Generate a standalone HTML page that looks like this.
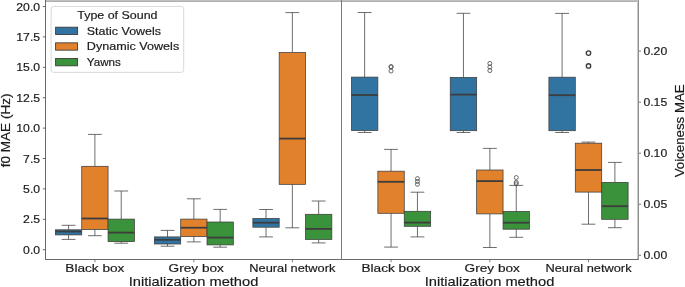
<!DOCTYPE html>
<html><head><meta charset="utf-8"><style>
html,body{margin:0;padding:0;background:#fff;overflow:hidden;}
svg{display:block;}
text{font-family:"Liberation Sans",sans-serif;fill:#1a1a1a;stroke:#1a1a1a;stroke-width:0.18px;}
.tl{font-size:11px;}
.xl{font-size:11px;}
.al{font-size:12.5px;}
.xal{font-size:13.2px;}
.lt{font-size:11px;}
.w{stroke:#3d3d3d;stroke-width:0.75;fill:none;}
.bx{stroke:#3d3d3d;stroke-width:0.75;}
.md{stroke:#3d3d3d;stroke-width:1.8;fill:none;}
.fl{stroke:#3d3d3d;stroke-width:0.75;fill:none;}
</style></head><body>
<svg width="685" height="287" viewBox="0 0 685 287">
<defs><filter id="g" filterUnits="userSpaceOnUse" x="0" y="0" width="685" height="287"><feGaussianBlur stdDeviation="0.01"/></filter></defs>
<rect width="685" height="287" fill="#fff"/>
<g filter="url(#g)">
<path d="M68.58 225.30V229.80M68.58 234.90V239.40M61.68 225.30H75.48M61.68 239.40H75.48" class="w"/>
<rect x="55.42" y="229.80" width="26.32" height="5.10" fill="#3274a1" class="bx"/>
<path d="M55.42 231.50H81.74" class="md"/>
<path d="M94.90 134.40V166.30M94.90 229.40V235.70M88.00 134.40H101.80M88.00 235.70H101.80" class="w"/>
<rect x="81.74" y="166.30" width="26.32" height="63.10" fill="#e1812c" class="bx"/>
<path d="M81.74 218.50H108.06" class="md"/>
<path d="M121.22 191.00V219.10M121.22 241.60V243.20M114.32 191.00H128.12M114.32 243.20H128.12" class="w"/>
<rect x="108.06" y="219.10" width="26.32" height="22.50" fill="#3a923a" class="bx"/>
<path d="M108.06 232.60H134.38" class="md"/>
<path d="M167.53 230.40V236.90M167.53 244.00V246.20M160.63 230.40H174.43M160.63 246.20H174.43" class="w"/>
<rect x="154.37" y="236.90" width="26.32" height="7.10" fill="#3274a1" class="bx"/>
<path d="M154.37 239.80H180.69" class="md"/>
<path d="M193.85 198.80V219.10M193.85 236.50V241.90M186.95 198.80H200.75M186.95 241.90H200.75" class="w"/>
<rect x="180.69" y="219.10" width="26.32" height="17.40" fill="#e1812c" class="bx"/>
<path d="M180.69 227.70H207.01" class="md"/>
<path d="M220.17 209.40V222.00M220.17 244.90V247.20M213.27 209.40H227.07M213.27 247.20H227.07" class="w"/>
<rect x="207.01" y="222.00" width="26.32" height="22.90" fill="#3a923a" class="bx"/>
<path d="M207.01 237.60H233.33" class="md"/>
<path d="M266.03 209.50V218.50M266.03 227.20V236.90M259.13 209.50H272.93M259.13 236.90H272.93" class="w"/>
<rect x="252.87" y="218.50" width="26.32" height="8.70" fill="#3274a1" class="bx"/>
<path d="M252.87 222.70H279.19" class="md"/>
<path d="M292.35 12.60V52.60M292.35 184.35V227.80M285.45 12.60H299.25M285.45 227.80H299.25" class="w"/>
<rect x="279.19" y="52.60" width="26.32" height="131.75" fill="#e1812c" class="bx"/>
<path d="M279.19 138.60H305.51" class="md"/>
<path d="M318.67 201.00V214.30M318.67 239.40V242.90M311.77 201.00H325.57M311.77 242.90H325.57" class="w"/>
<rect x="305.51" y="214.30" width="26.32" height="25.10" fill="#3a923a" class="bx"/>
<path d="M305.51 228.90H331.83" class="md"/>
<path d="M364.65 12.50V77.10M364.65 130.50V132.50M357.75 12.50H371.55M357.75 132.50H371.55" class="w"/>
<rect x="351.45" y="77.10" width="26.40" height="53.40" fill="#3274a1" class="bx"/>
<path d="M351.45 95.00H377.85" class="md"/>
<path d="M391.05 149.40V171.20M391.05 213.30V247.10M384.15 149.40H397.95M384.15 247.10H397.95" class="w"/>
<rect x="377.85" y="171.20" width="26.40" height="42.10" fill="#e1812c" class="bx"/>
<path d="M377.85 181.80H404.25" class="md"/>
<circle cx="391.05" cy="66.60" r="2.0" class="fl" style="stroke-width:0.75px"/>
<circle cx="391.05" cy="66.90" r="2.0" class="fl" style="stroke-width:0.75px"/>
<circle cx="391.05" cy="71.00" r="2.0" class="fl" style="stroke-width:0.75px"/>
<path d="M417.45 192.20V211.30M417.45 226.30V236.90M410.55 192.20H424.35M410.55 236.90H424.35" class="w"/>
<rect x="404.25" y="211.30" width="26.40" height="15.00" fill="#3a923a" class="bx"/>
<path d="M404.25 222.60H430.65" class="md"/>
<circle cx="417.45" cy="178.60" r="2.0" class="fl" style="stroke-width:0.75px"/>
<circle cx="417.45" cy="181.40" r="2.0" class="fl" style="stroke-width:0.75px"/>
<circle cx="417.45" cy="184.30" r="2.0" class="fl" style="stroke-width:0.75px"/>
<path d="M463.45 13.30V77.40M463.45 130.70V132.50M456.55 13.30H470.35M456.55 132.50H470.35" class="w"/>
<rect x="450.25" y="77.40" width="26.40" height="53.30" fill="#3274a1" class="bx"/>
<path d="M450.25 94.60H476.65" class="md"/>
<path d="M489.85 148.40V170.00M489.85 213.90V247.50M482.95 148.40H496.75M482.95 247.50H496.75" class="w"/>
<rect x="476.65" y="170.00" width="26.40" height="43.90" fill="#e1812c" class="bx"/>
<path d="M476.65 181.10H503.05" class="md"/>
<circle cx="489.85" cy="63.40" r="2.0" class="fl" style="stroke-width:0.75px"/>
<circle cx="489.85" cy="67.00" r="2.0" class="fl" style="stroke-width:0.75px"/>
<circle cx="489.85" cy="70.60" r="2.0" class="fl" style="stroke-width:0.75px"/>
<path d="M516.25 185.40V211.50M516.25 229.20V237.30M509.35 185.40H523.15M509.35 237.30H523.15" class="w"/>
<rect x="503.05" y="211.50" width="26.40" height="17.70" fill="#3a923a" class="bx"/>
<path d="M503.05 222.70H529.45" class="md"/>
<circle cx="516.25" cy="177.50" r="2.0" class="fl" style="stroke-width:0.75px"/>
<circle cx="516.25" cy="182.30" r="2.0" class="fl" style="stroke-width:0.75px"/>
<circle cx="516.25" cy="183.80" r="2.0" class="fl" style="stroke-width:0.75px"/>
<path d="M562.10 13.40V77.20M562.10 130.70V132.50M555.20 13.40H569.00M555.20 132.50H569.00" class="w"/>
<rect x="548.90" y="77.20" width="26.40" height="53.50" fill="#3274a1" class="bx"/>
<path d="M548.90 95.20H575.30" class="md"/>
<path d="M588.50 142.10V143.20M588.50 192.10V224.20M581.60 142.10H595.40M581.60 224.20H595.40" class="w"/>
<rect x="575.30" y="143.20" width="26.40" height="48.90" fill="#e1812c" class="bx"/>
<path d="M575.30 170.00H601.70" class="md"/>
<circle cx="588.50" cy="53.10" r="2.2" class="fl" style="stroke-width:1.35px"/>
<circle cx="588.50" cy="65.90" r="2.2" class="fl" style="stroke-width:1.35px"/>
<path d="M614.90 162.40V182.40M614.90 219.30V227.70M608.00 162.40H621.80M608.00 227.70H621.80" class="w"/>
<rect x="601.70" y="182.40" width="26.40" height="36.90" fill="#3a923a" class="bx"/>
<path d="M601.70 206.20H628.10" class="md"/>
<rect x="45" y="0" width="594" height="1" fill="#c0c0c0"/>
<rect x="45" y="1" width="594" height="1" fill="#b0b0b0"/>
<rect x="45" y="259" width="594" height="1" fill="#6a6a6a"/>
<rect x="45" y="0" width="1" height="260" fill="#6a6a6a"/>
<rect x="341" y="0" width="1" height="260" fill="#7a7a7a"/>
<rect x="638" y="0" width="1" height="260" fill="#909090"/>
<rect x="637" y="0" width="1" height="259" fill="#c8c8c8"/>
<rect x="42.8" y="249.20" width="2.4" height="1" fill="#6a6a6a"/>
<rect x="42.8" y="218.80" width="2.4" height="1" fill="#6a6a6a"/>
<rect x="42.8" y="188.40" width="2.4" height="1" fill="#6a6a6a"/>
<rect x="42.8" y="158.00" width="2.4" height="1" fill="#6a6a6a"/>
<rect x="42.8" y="127.60" width="2.4" height="1" fill="#6a6a6a"/>
<rect x="42.8" y="97.20" width="2.4" height="1" fill="#6a6a6a"/>
<rect x="42.8" y="66.80" width="2.4" height="1" fill="#6a6a6a"/>
<rect x="42.8" y="36.40" width="2.4" height="1" fill="#6a6a6a"/>
<rect x="42.8" y="6.00" width="2.4" height="1" fill="#6a6a6a"/>
<rect x="638.8" y="254.80" width="2.2" height="1" fill="#7a7a7a"/>
<rect x="638.8" y="203.75" width="2.2" height="1" fill="#7a7a7a"/>
<rect x="638.8" y="152.70" width="2.2" height="1" fill="#7a7a7a"/>
<rect x="638.8" y="101.65" width="2.2" height="1" fill="#7a7a7a"/>
<rect x="638.8" y="50.60" width="2.2" height="1" fill="#7a7a7a"/>
<rect x="94.40" y="260" width="1" height="2.2" fill="#7a7a7a"/>
<rect x="193.35" y="260" width="1" height="2.2" fill="#7a7a7a"/>
<rect x="291.85" y="260" width="1" height="2.2" fill="#7a7a7a"/>
<rect x="390.55" y="260" width="1" height="2.2" fill="#7a7a7a"/>
<rect x="489.35" y="260" width="1" height="2.2" fill="#7a7a7a"/>
<rect x="588.00" y="260" width="1" height="2.2" fill="#7a7a7a"/>
<rect x="51.1" y="6.45" width="132.6" height="65.9" rx="2.5" ry="2.5" fill="#fff" fill-opacity="0.8" stroke="#d9d9d9" stroke-width="1"/>
<text x="117.40" y="18.60" text-anchor="middle" class="lt" textLength="80.16" lengthAdjust="spacingAndGlyphs">Type of Sound</text>
<rect x="55.6" y="27.20" width="22.0" height="7.3" fill="#3274a1" stroke="#3d3d3d" stroke-width="0.9"/>
<text x="86.80" y="34.60" class="lt" textLength="74.25" lengthAdjust="spacingAndGlyphs">Static Vowels</text>
<rect x="55.6" y="42.85" width="22.0" height="7.3" fill="#e1812c" stroke="#3d3d3d" stroke-width="0.9"/>
<text x="86.80" y="50.25" class="lt" textLength="92.40" lengthAdjust="spacingAndGlyphs">Dynamic Vowels</text>
<rect x="55.6" y="58.50" width="22.0" height="7.3" fill="#3a923a" stroke="#3d3d3d" stroke-width="0.9"/>
<text x="86.80" y="65.90" class="lt" textLength="33.97" lengthAdjust="spacingAndGlyphs">Yawns</text>
<text x="40.10" y="253.80" text-anchor="end" class="tl" textLength="17.00" lengthAdjust="spacingAndGlyphs">0.0</text>
<text x="40.10" y="223.40" text-anchor="end" class="tl" textLength="17.00" lengthAdjust="spacingAndGlyphs">2.5</text>
<text x="40.10" y="193.00" text-anchor="end" class="tl" textLength="17.00" lengthAdjust="spacingAndGlyphs">5.0</text>
<text x="40.10" y="162.60" text-anchor="end" class="tl" textLength="17.00" lengthAdjust="spacingAndGlyphs">7.5</text>
<text x="40.10" y="132.20" text-anchor="end" class="tl" textLength="23.81" lengthAdjust="spacingAndGlyphs">10.0</text>
<text x="40.10" y="101.80" text-anchor="end" class="tl" textLength="23.81" lengthAdjust="spacingAndGlyphs">12.5</text>
<text x="40.10" y="71.40" text-anchor="end" class="tl" textLength="23.81" lengthAdjust="spacingAndGlyphs">15.0</text>
<text x="40.10" y="41.00" text-anchor="end" class="tl" textLength="23.81" lengthAdjust="spacingAndGlyphs">17.5</text>
<text x="40.10" y="10.60" text-anchor="end" class="tl" textLength="23.81" lengthAdjust="spacingAndGlyphs">20.0</text>
<text x="643.40" y="259.40" class="tl" textLength="23.81" lengthAdjust="spacingAndGlyphs">0.00</text>
<text x="643.40" y="208.35" class="tl" textLength="23.81" lengthAdjust="spacingAndGlyphs">0.05</text>
<text x="643.40" y="157.30" class="tl" textLength="23.81" lengthAdjust="spacingAndGlyphs">0.10</text>
<text x="643.40" y="106.25" class="tl" textLength="23.81" lengthAdjust="spacingAndGlyphs">0.15</text>
<text x="643.40" y="55.20" class="tl" textLength="23.81" lengthAdjust="spacingAndGlyphs">0.20</text>
<text x="94.90" y="271.60" text-anchor="middle" class="xl" textLength="59.09" lengthAdjust="spacingAndGlyphs">Black box</text>
<text x="196.25" y="271.60" text-anchor="middle" class="xl" textLength="55.34" lengthAdjust="spacingAndGlyphs">Grey box</text>
<text x="292.35" y="271.60" text-anchor="middle" class="xl" textLength="86.11" lengthAdjust="spacingAndGlyphs">Neural network</text>
<text x="391.05" y="271.60" text-anchor="middle" class="xl" textLength="59.09" lengthAdjust="spacingAndGlyphs">Black box</text>
<text x="492.25" y="271.60" text-anchor="middle" class="xl" textLength="55.34" lengthAdjust="spacingAndGlyphs">Grey box</text>
<text x="588.50" y="271.60" text-anchor="middle" class="xl" textLength="86.11" lengthAdjust="spacingAndGlyphs">Neural network</text>
<text x="193.55" y="286.20" text-anchor="middle" class="xal" textLength="129.59" lengthAdjust="spacingAndGlyphs">Initialization method</text>
<text x="489.50" y="286.20" text-anchor="middle" class="xal" textLength="129.59" lengthAdjust="spacingAndGlyphs">Initialization method</text>
<g transform="translate(9.9,130.4) rotate(-90)"><text x="0.00" y="0.00" text-anchor="middle" class="al" textLength="73.64" lengthAdjust="spacingAndGlyphs">f0 MAE (Hz)</text></g>
<g transform="translate(683.6,130.85) rotate(-90)"><text x="0.00" y="0.00" text-anchor="middle" class="al" textLength="93.06" lengthAdjust="spacingAndGlyphs">Voiceness MAE</text></g>
</g>
</svg>
</body></html>
